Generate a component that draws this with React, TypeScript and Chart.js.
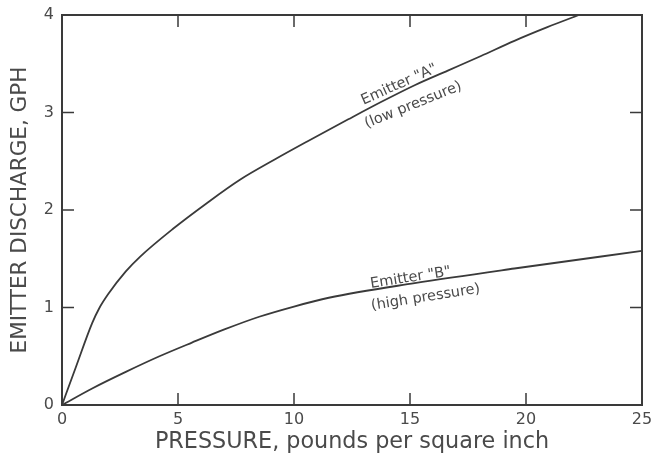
import React, { useEffect, useRef } from "react";
import { Chart, registerables } from "chart.js";

Chart.register(...registerables);

// ---- data ----
const pressureA = [0, 0.6, 1.3, 1.6, 2.0, 2.75, 3.36, 4.8, 6.24, 7.67, 9.11, 10.55, 12.34, 13.77, 15.2, 16.63, 18.06, 19.5, 20.92, 22.28];
const dischargeA = [0, 0.39, 0.84, 0.99, 1.14, 1.37, 1.52, 1.81, 2.07, 2.31, 2.51, 2.7, 2.93, 3.11, 3.28, 3.43, 3.58, 3.735, 3.875, 4.0];
const pressureB = [0, 1.3, 2.75, 4.2, 5.6, 7.0, 8.5, 10.0, 11.5, 15.2, 19.5, 25];
const dischargeB = [0, 0.17, 0.34, 0.5, 0.64, 0.775, 0.905, 1.01, 1.1, 1.25, 1.4, 1.58];
const xTicks = [0, 5, 10, 15, 20, 25];
const yTicks = [0, 1, 2, 3, 4];
const xTitle = "PRESSURE, pounds per square inch";
const yTitle = "EMITTER DISCHARGE, GPH";
const labelTexts = ['Emitter "A"', "(low pressure)", 'Emitter "B"', "(high pressure)"];
const labelX = [14.6, 15.2, 15.05, 15.7];
const labelY = [3.25, 3.04, 1.265, 1.065];
const labelAngle = [-24, -22, -9, -9];

const INK = "#3a3a3a";
const TEXT = "#4a4a4a";
const FONT = "'DejaVu Sans', sans-serif";

const framePlugin = {
  id: "frame",
  afterDraw(chart: any) {
    const { ctx, chartArea, scales } = chart;
    const { left, right, top, bottom } = chartArea;
    const xs = scales.x;
    const ys = scales.y;
    const tl = 12;
    ctx.save();
    ctx.strokeStyle = INK;
    ctx.lineWidth = 1.5;
    ctx.beginPath();
    xTicks.slice(1, -1).forEach((v) => {
      const px = xs.getPixelForValue(v);
      ctx.moveTo(px, bottom);
      ctx.lineTo(px, bottom - tl);
      ctx.moveTo(px, top);
      ctx.lineTo(px, top + tl);
    });
    yTicks.slice(1, -1).forEach((v) => {
      const py = ys.getPixelForValue(v);
      ctx.moveTo(left, py);
      ctx.lineTo(left + tl, py);
      ctx.moveTo(right, py);
      ctx.lineTo(right - tl, py);
    });
    ctx.stroke();
    ctx.lineWidth = 2;
    ctx.strokeRect(left, top, right - left, bottom - top);
    // curve labels
    ctx.fillStyle = TEXT;
    ctx.font = `14.5px ${FONT}`;
    ctx.textAlign = "center";
    ctx.textBaseline = "alphabetic";
    labelTexts.forEach((t, i) => {
      const px = xs.getPixelForValue(labelX[i]);
      const py = ys.getPixelForValue(labelY[i]);
      ctx.save();
      ctx.translate(px, py);
      ctx.rotate((labelAngle[i] * Math.PI) / 180);
      ctx.fillText(t, 0, 0);
      ctx.restore();
    });
    ctx.restore();
  },
};

export default function App() {
  const ref = useRef<HTMLCanvasElement>(null);
  useEffect(() => {
    if (!ref.current) return;
    const chart = new Chart(ref.current, {
      type: "line",
      data: {
        datasets: [
          {
            label: "A",
            data: pressureA.map((x, i) => ({ x, y: dischargeA[i] })),
            borderColor: INK,
            borderWidth: 1.8,
            pointRadius: 0,
            cubicInterpolationMode: "monotone",
          },
          {
            label: "B",
            data: pressureB.map((x, i) => ({ x, y: dischargeB[i] })),
            borderColor: INK,
            borderWidth: 1.8,
            pointRadius: 0,
            cubicInterpolationMode: "monotone",
          },
        ],
      },
      options: {
        animation: false,
        responsive: false,
        devicePixelRatio: 1,
        layout: { padding: { top: 15, right: 10, left: 0, bottom: 0 } },
        plugins: { legend: { display: false }, tooltip: { enabled: false } },
        scales: {
          x: {
            type: "linear",
            min: 0,
            max: 25,
            grid: { display: false, drawTicks: false },
            border: { display: false },
            ticks: {
              stepSize: 5,
              padding: 5,
              color: TEXT,
              font: { family: FONT, size: 16 },
              maxRotation: 0,
            },
            title: {
              display: true,
              text: xTitle,
              color: TEXT,
              font: { family: FONT, size: 22.3, lineHeight: 1 },
              padding: { top: 0, bottom: 0 },
            },
            afterFit(s: any) {
              s.height = 48;
              s.paddingLeft = 0;
              s.paddingRight = 0;
            },
          },
          y: {
            type: "linear",
            min: 0,
            max: 4,
            grid: { display: false, drawTicks: false },
            border: { display: false },
            ticks: {
              stepSize: 1,
              padding: 8,
              color: TEXT,
              font: { family: FONT, size: 16 },
            },
            title: {
              display: true,
              text: yTitle,
              color: TEXT,
              font: { family: FONT, size: 21.5, lineHeight: 1 },
              padding: { top: 10, bottom: 0 },
            },
            afterFit(s: any) {
              s.width = 62;
              s.paddingTop = 0;
              s.paddingBottom = 0;
            },
          },
        },
      },
      plugins: [framePlugin],
    } as any);
    return () => chart.destroy();
  }, []);
  return (
    <div style={{ position: "fixed", left: 0, top: 0, width: 652, height: 453, background: "#fff" }}>
      <canvas ref={ref} width={652} height={453} />
    </div>
  );
}
